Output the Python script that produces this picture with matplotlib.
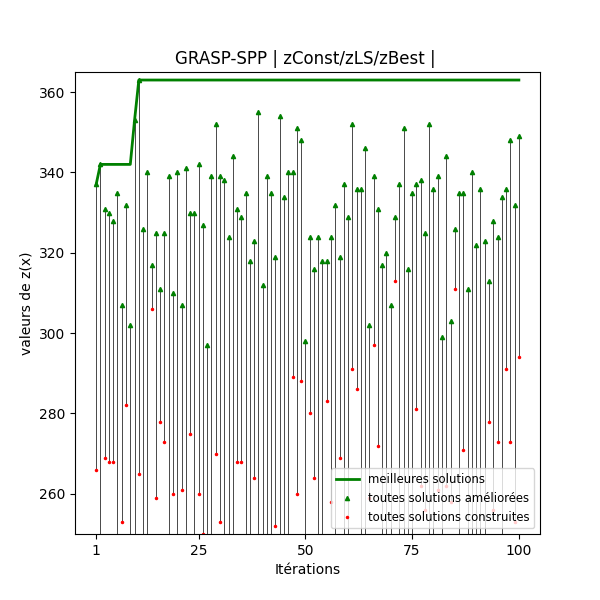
import numpy as np
import matplotlib
matplotlib.use("Agg")
import matplotlib.pyplot as plt

iterations = np.arange(1, 101)

# valeurs des solutions construites (zConst)
zConst = [266, 245, 269, 268, 268, 244, 253, 282, 240, 246,
          265, 242, 238, 306, 259, 278, 273, 247, 260, 243,
          261, 248, 275, 241, 260, 250, 239, 244, 270, 253,
          246, 242, 240, 268, 268, 245, 243, 264, 247, 241,
          246, 239, 252, 244, 241, 247, 289, 260, 288, 243,
          280, 264, 246, 240, 283, 258, 245, 269, 242, 247,
          291, 286, 244, 240, 259, 297, 272, 241, 246, 243,
          313, 245, 238, 247, 242, 281, 262, 256, 244, 241,
          261, 246, 262, 258, 311, 243, 271, 240, 245, 242,
          247, 239, 278, 256, 273, 244, 291, 273, 253, 294]

# valeurs des solutions ameliorees (zLS)
zLS = [337, 342, 331, 330, 328, 335, 307, 332, 302, 353,
       363, 326, 340, 317, 325, 311, 325, 339, 310, 340,
       307, 341, 330, 330, 342, 327, 297, 339, 352, 339,
       338, 324, 344, 331, 329, 335, 318, 323, 355, 312,
       339, 335, 319, 354, 334, 340, 340, 351, 348, 298,
       324, 316, 324, 318, 318, 324, 332, 319, 337, 329,
       352, 336, 336, 346, 302, 339, 331, 317, 320, 307,
       329, 337, 351, 316, 335, 337, 338, 325, 352, 336,
       339, 299, 344, 303, 326, 335, 335, 311, 340, 322,
       336, 323, 313, 328, 324, 334, 336, 348, 332, 349]

# meilleure solution trouvee jusqu'a l'iteration courante
zBest = np.maximum.accumulate(zLS)

fig, ax = plt.subplots(figsize=(6, 6), dpi=100)
ax.set_title("GRASP-SPP | zConst/zLS/zBest | ")
ax.set_xlabel("Itérations")
ax.set_ylabel("valeurs de z(x)")

ax.vlines(iterations, zConst, zLS, linestyles="solid", colors="black", linewidth=0.5)
ax.plot(iterations, zBest, linewidth=2.0, color="green", label="meilleures solutions")
ax.plot(iterations, zLS, ls="", marker="^", ms=3, color="green", label="toutes solutions améliorées")
ax.plot(iterations, zConst, ls="", marker=".", ms=3, color="red", label="toutes solutions construites")

ax.set_xticks([1, 25, 50, 75, 100])
ax.set_ylim(250, 365)
ax.legend(loc=4, fontsize="small")

plt.savefig("out.png")
